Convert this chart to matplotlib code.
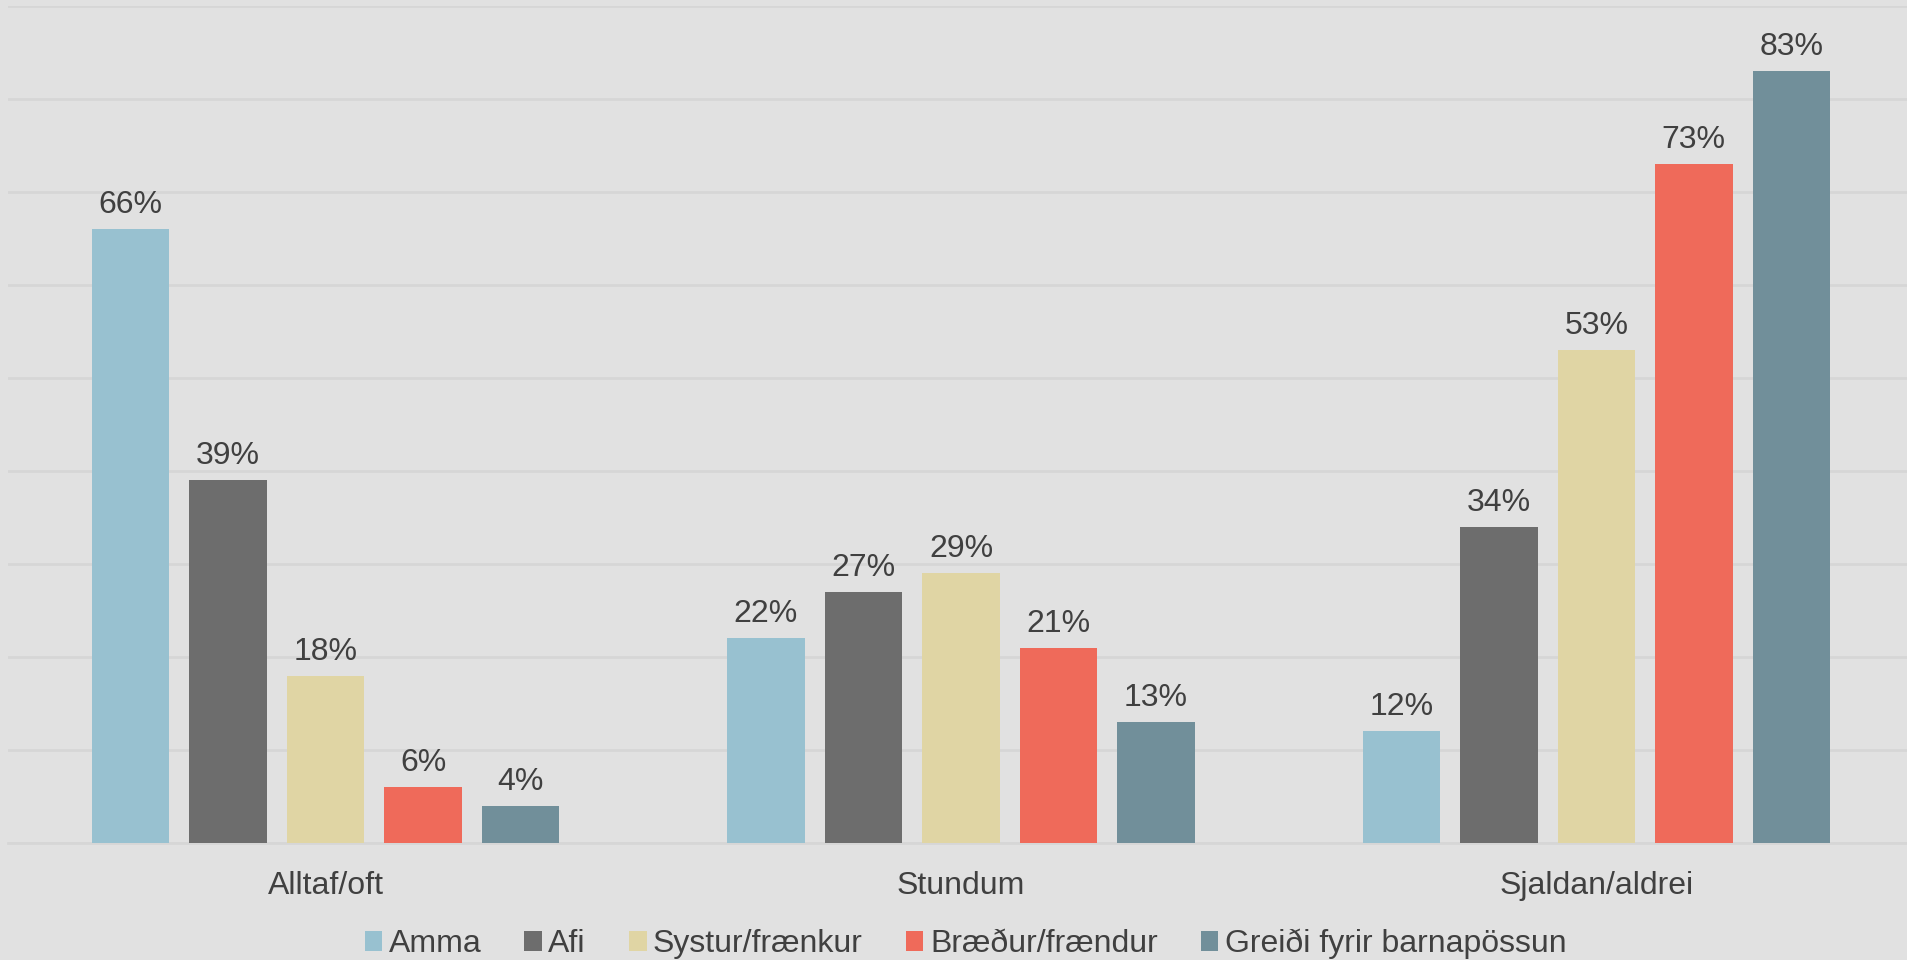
import numpy as np
import matplotlib.pyplot as plt
from matplotlib.patches import Patch

categories = ['Alltaf/oft', 'Stundum', 'Sjaldan/aldrei']
series_names = ['Amma', 'Afi', 'Systur/frænkur', 'Bræður/frændur',
                'Greiði fyrir barnapössun']
amma = [66, 22, 12]
afi = [39, 27, 34]
systur = [18, 29, 53]
braedur = [6, 21, 73]
greidi = [4, 13, 83]
colors = ['#98C1D0', '#6D6D6D', '#E0D5A4', '#EF6A5A', '#718F9A']

bg = '#E1E1E1'
txt = '#404040'

plt.rcParams['font.family'] = ['Liberation Sans', 'DejaVu Sans']

fig = plt.figure(figsize=(19.08, 9.6), dpi=100, facecolor=bg)
ax = fig.add_axes([8 / 1908, 117 / 960, 1906 / 1908, 1 - 117 / 960 - 6 / 960])
ax.set_facecolor(bg)

x = np.arange(len(categories))
width = 0.122
step = 0.1535
all_series = [amma, afi, systur, braedur, greidi]
for i, vals in enumerate(all_series):
    pos = x + (i - 2) * step
    bars = ax.bar(pos, vals, width, color=colors[i], zorder=3,
                  label=series_names[i])
    for b, v in zip(bars, vals):
        ax.annotate('{}%'.format(v), (b.get_x() + b.get_width() / 2, v),
                    xytext=(0, 11.5), textcoords='offset points',
                    ha='center', va='baseline', fontsize=23, color=txt)

ax.set_xlim(-0.5, 2.5)
ax.set_ylim(0, 90)
ax.set_yticks(np.arange(0, 91, 10))
ax.yaxis.grid(True, color='#D6D6D6', linewidth=2, zorder=0)
ax.set_yticklabels([])
ax.tick_params(axis='y', length=0)
ax.set_xticks(x)
ax.set_xticklabels(categories, fontsize=23, color=txt)
ax.tick_params(axis='x', length=0, pad=20)
for s in ['top', 'right', 'left']:
    ax.spines[s].set_visible(False)
ax.spines['bottom'].set_color('#D6D6D6')
ax.spines['bottom'].set_linewidth(2)

handles = [Patch(facecolor=c, edgecolor='none') for c in colors]
fig.legend(handles, series_names, loc='center', bbox_to_anchor=(0.506, 1 - 944 / 960),
           ncol=5, frameon=False, fontsize=23, labelcolor=txt,
           handlelength=0.55, handleheight=0.55, handletextpad=0.2,
           columnspacing=1.35)

fig.savefig('out.png', dpi=100, facecolor=bg)
